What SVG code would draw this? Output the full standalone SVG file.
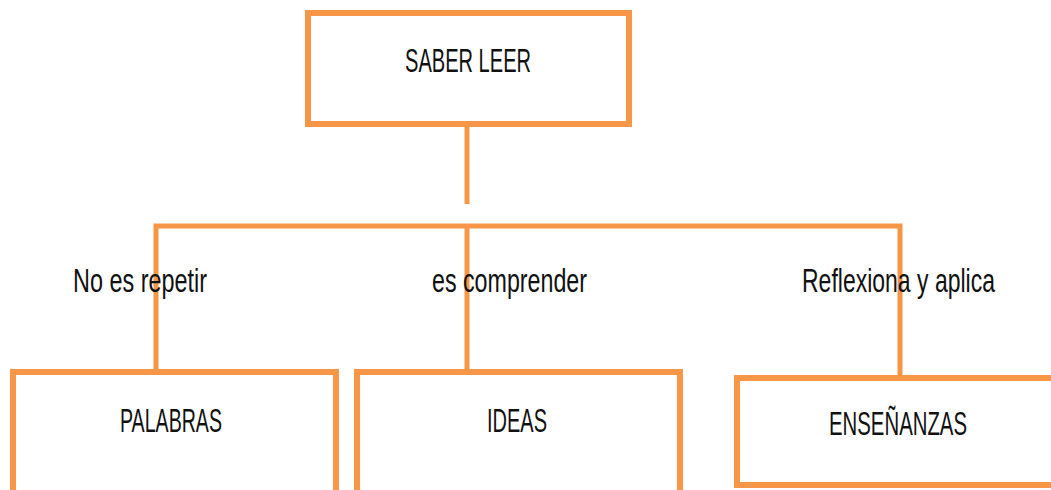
<svg xmlns="http://www.w3.org/2000/svg" width="1051" height="490" viewBox="0 0 1051 490">
  <style>
    .box { fill: #ffffff; stroke: #F79646; stroke-width: 6; }
    .conn { fill: none; stroke: #F79646; stroke-width: 5; stroke-linecap: butt; }
    .t { font-family: "Liberation Sans", Arial, sans-serif; font-size: 34px; fill: #111111; }
  </style>
  <rect width="1051" height="490" fill="#ffffff"/>
  <g id="connectors">
    <line class="conn" x1="467" y1="127" x2="467" y2="204"/>
    <polyline class="conn" points="156,372 156,226 900,226 900,376"/>
    <line class="conn" x1="467" y1="226" x2="467" y2="372"/>
  </g>
  <g id="node-saber-leer">
    <rect class="box" x="308" y="13" width="321" height="111"/>
    <text class="t" x="405" y="72" textLength="126" lengthAdjust="spacingAndGlyphs">SABER LEER</text>
  </g>
  <g id="label-no-es-repetir">
    <text class="t" x="73" y="292" textLength="134" lengthAdjust="spacingAndGlyphs">No es repetir</text>
  </g>
  <g id="label-es-comprender">
    <text class="t" x="432" y="292" textLength="155" lengthAdjust="spacingAndGlyphs">es comprender</text>
  </g>
  <g id="label-reflexiona">
    <text class="t" x="802" y="292" textLength="193" lengthAdjust="spacingAndGlyphs">Reflexiona y aplica</text>
  </g>
  <g id="node-palabras">
    <rect class="box" x="13" y="372" width="323" height="130"/>
    <text class="t" x="120" y="432" textLength="102" lengthAdjust="spacingAndGlyphs">PALABRAS</text>
  </g>
  <g id="node-ideas">
    <rect class="box" x="357" y="372" width="323" height="130"/>
    <text class="t" x="487" y="432" textLength="60" lengthAdjust="spacingAndGlyphs">IDEAS</text>
  </g>
  <g id="node-ensenanzas">
    <rect class="box" x="737" y="378" width="330" height="107"/>
    <text class="t" x="829" y="435" textLength="138" lengthAdjust="spacingAndGlyphs">ENSEÑANZAS</text>
  </g>
</svg>
